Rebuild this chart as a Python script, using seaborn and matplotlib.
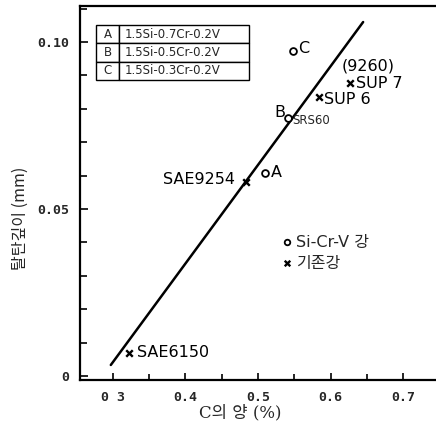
import numpy as np
import pandas as pd
import matplotlib
matplotlib.use("Agg")
import matplotlib.pyplot as plt
import seaborn as sns

# Si-Cr-V steels (open circles)
sicrv_names = ["A", "B", "C"]
sicrv_c = [0.510, 0.541, 0.548]
sicrv_depth = [0.0608, 0.0772, 0.0973]

# conventional steels (crosses)
conv_names = ["SAE6150", "SAE9254", "SUP 6", "SUP 7"]
conv_c = [0.322, 0.483, 0.584, 0.627]
conv_depth = [0.0069, 0.0580, 0.0835, 0.0877]

# trend line for conventional steels
trend_c = [0.297, 0.645]
trend_depth = [0.0033, 0.1060]

# composition table
table_keys = ["A", "B", "C"]
table_comp = ["1.5Si-0.7Cr-0.2V", "1.5Si-0.5Cr-0.2V", "1.5Si-0.3Cr-0.2V"]

x_ticks = [0.3, 0.4, 0.5, 0.6, 0.7]
x_ticklabels = ["0 3", "0.4", "0.5", "0.6", "0.7"]
y_ticks = [0.0, 0.05, 0.10]
y_ticklabels = ["0", "0.05", "0.10"]

sns.set_style("ticks")
plt.rcParams["font.family"] = ["DejaVu Sans", "Noto Sans CJK KR"]

fig = plt.figure(figsize=(4.36, 4.29), dpi=100)
ax = fig.add_axes([80 / 436, 1 - 380 / 429, 1 - 80 / 436, (380 - 6) / 429])

df_s = pd.DataFrame({"c": sicrv_c, "d": sicrv_depth})
df_c = pd.DataFrame({"c": conv_c, "d": conv_depth})
df_t = pd.DataFrame({"c": trend_c, "d": trend_depth})

sns.lineplot(data=df_t, x="c", y="d", color="black", lw=1.8, ax=ax)
sns.scatterplot(data=df_s, x="c", y="d", marker="o", s=24, facecolor="white",
                edgecolor="black", linewidth=1.3, ax=ax, zorder=3)
sns.scatterplot(data=df_c, x="c", y="d", marker="x", s=22, color="black",
                linewidth=1.7, ax=ax, zorder=3)

ax.set_xlim(0.2545, 0.7455)
ax.set_ylim(-0.0012, 0.1108)

ax.set_xticks(x_ticks)
ax.set_xticklabels(x_ticklabels, fontsize=9.5, fontweight="bold", family="DejaVu Sans Mono")
ax.set_xticks(np.arange(0.35, 0.75, 0.1), minor=True)
ax.set_yticks(y_ticks)
ax.set_yticklabels(y_ticklabels, fontsize=9.5, fontweight="bold", family="DejaVu Sans Mono")
ax.set_yticks(np.arange(0.01, 0.111, 0.01), minor=True)
ax.tick_params(axis="both", which="both", direction="in", width=1.2, color="black")
ax.tick_params(axis="x", which="major", length=5, pad=8)
ax.tick_params(axis="x", which="minor", length=4)
ax.tick_params(axis="y", which="major", length=6, pad=8)
ax.tick_params(axis="y", which="minor", length=5)

for side in ["left", "bottom", "top"]:
    ax.spines[side].set_linewidth(1.6)
    ax.spines[side].set_color("black")
ax.spines["right"].set_visible(False)

ax.set_xlabel("C의 양 (%)", fontsize=12, family=["DejaVu Serif", "Noto Sans CJK KR"])
ax.xaxis.set_label_coords((240 - 80) / 356, (380 - 413) / 374)
ax.xaxis.label.set_va("center")
ax.set_ylabel("탈탄깊이 (mm)", fontsize=11.5, family=["Noto Sans CJK KR"])
ax.yaxis.set_label_coords((20 - 80) / 356, (380 - 218) / 374)
ax.yaxis.label.set_va("center")

lab_kw = dict(fontsize=11.5, color="black", textcoords="offset points")
# Si-Cr-V point letters
ax.annotate("A", (sicrv_c[0], sicrv_depth[0]), xytext=(4, 0.5), va="center", ha="left", **lab_kw)
ax.annotate("B", (sicrv_c[1], sicrv_depth[1]), xytext=(-2, 4), va="center", ha="right", **lab_kw)
ax.annotate("SRS60", (sicrv_c[1], sicrv_depth[1]), xytext=(3, -2), va="center", ha="left",
            fontsize=8.5, textcoords="offset points")
ax.annotate("C", (sicrv_c[2], sicrv_depth[2]), xytext=(4, 2), va="center", ha="left", **lab_kw)
# conventional steel labels
ax.annotate(conv_names[0], (conv_c[0], conv_depth[0]), xytext=(6, 0), va="center", ha="left", **lab_kw)
ax.annotate(conv_names[1], (conv_c[1], conv_depth[1]), xytext=(-8, 2), va="center", ha="right", **lab_kw)
ax.annotate(conv_names[2], (conv_c[2], conv_depth[2]), xytext=(4, -1.5), va="center", ha="left", **lab_kw)
ax.annotate(conv_names[3], (conv_c[3], conv_depth[3]), xytext=(4, 0), va="center", ha="left", **lab_kw)
ax.annotate("(9260)", (conv_c[3], conv_depth[3]), xytext=(-6, 12.5), va="center", ha="left", **lab_kw)

# marker key
key_x = 0.5405
ax.scatter([key_x], [0.0400], marker="o", s=16, facecolor="white", edgecolor="black", linewidth=1.3)
ax.scatter([key_x], [0.0337], marker="x", s=16, color="black", linewidth=1.7)
ax.annotate("Si-Cr-V 강", (key_x, 0.0400), xytext=(6, 0), va="center", ha="left",
            fontsize=11.5, textcoords="offset points", family=["DejaVu Sans", "Noto Sans CJK KR"])
ax.annotate("기존강", (key_x, 0.0337), xytext=(6, 0), va="center", ha="left",
            fontsize=11.5, textcoords="offset points", family=["Noto Sans CJK KR"])

# composition table in the upper-left corner
tab = ax.table(cellText=[[k, v] for k, v in zip(table_keys, table_comp)],
               colWidths=[23 / 356, 130 / 356], cellLoc="left",
               bbox=[(96 - 80) / 356, (380 - 80) / 374, 153 / 356, 55 / 374])
tab.auto_set_font_size(False)
for (r, c), cell in tab.get_celld().items():
    cell.set_linewidth(1.0)
    cell.set_edgecolor("black")
    cell.PAD = 0.04
    cell.get_text().set_fontsize(8.5)
    cell.get_text().set_family("DejaVu Sans")
    if c == 0:
        cell.get_text().set_ha("center")
        cell._loc = "center"

fig.savefig("out.png", dpi=100)
